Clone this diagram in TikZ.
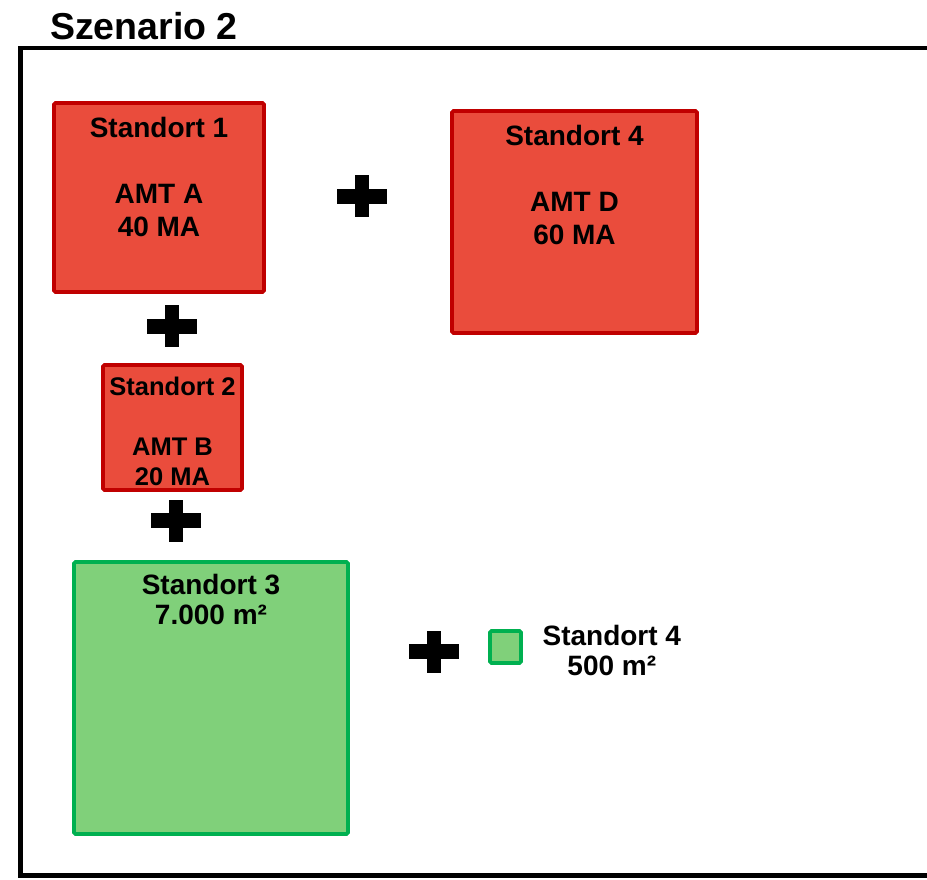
\documentclass[tikz,border=0pt]{standalone}
\usepackage{fontspec}
\setmainfont{Liberation Sans}
\usetikzlibrary{positioning}
\definecolor{rot}{RGB}{234,76,60}
\definecolor{dunkelrot}{RGB}{192,0,0}
\definecolor{gruen}{RGB}{128,208,122}
\definecolor{dunkelgruen}{RGB}{0,176,80}
\tikzset{kreuz/.pic={
  \fill (-25,-7.5) rectangle (25,7.5);
  \fill (-7,-21) rectangle (7,21);
}}

\begin{document}
\begin{tikzpicture}
[x=1pt,y=-1pt,align=center,inner sep=0pt]
\tikzstyle{rotbox}=[fill=rot,draw=dunkelrot,line width=3.8pt,rounded corners=1.5pt]
\tikzstyle{gruenbox}=[fill=gruen,draw=dunkelgruen,line width=3.8pt,rounded corners=1.5pt]
\tikzstyle{gross}=[font=\bfseries\fontsize{28}{33}\selectfont]
\tikzstyle{klein}=[font=\bfseries\fontsize{25.5}{30}\selectfont]
\tikzstyle{flaeche}=[font=\bfseries\fontsize{28}{30}\selectfont]

\useasboundingbox (0,0) rectangle (927,879);
\draw[line width=4.5pt] (932,48) -- (20.5,48) -- (20.5,875.5) -- (932,875.5);

\draw node [anchor=base west,font=\bfseries\fontsize{37.5}{40}\selectfont] (titel) at (50,39) {Szenario 2};

% Standorte mit AMT
\draw node [rotbox,minimum width=210pt,minimum height=189pt] (s1) at (159,197.5) {};
\draw node [gross,below=15.5pt of s1.north] (s1text) {Standort 1\\[33pt]AMT A\\40 MA};
\draw node [rotbox,minimum width=245pt,minimum height=222pt] (s4) at (574.5,222) {};
\draw node [gross,below=16pt of s4.north] (s4text) {Standort 4\\[33pt]AMT D\\60 MA};
\draw node [rotbox,minimum width=139pt,minimum height=125pt] (s2) at (172.5,427.5) {};
\draw node [klein,below=13.5pt of s2.north] (s2text) {Standort 2\\[30pt]AMT B\\20 MA};

% Flaechen
\draw node [gruenbox,minimum width=274pt,minimum height=272pt] (s3) at (211,698) {};
\draw node [flaeche,below=13.5pt of s3.north] (s3text) {Standort 3\\7.000 m²};
\draw node [gruenbox,minimum width=31pt,minimum height=32pt] (s4f) at (505.5,647) {};
\draw node [flaeche,right=19.5pt of s4f,yshift=-3pt] (s4ftext) {Standort 4\\500 m²};

\pic (p1) at (362,196) {kreuz};
\pic (p2) at (172,326) {kreuz};
\pic (p3) at (176,520.5) {kreuz};
\pic (p4) at (434,651.5) {kreuz};

\end{tikzpicture}
\end{document}
